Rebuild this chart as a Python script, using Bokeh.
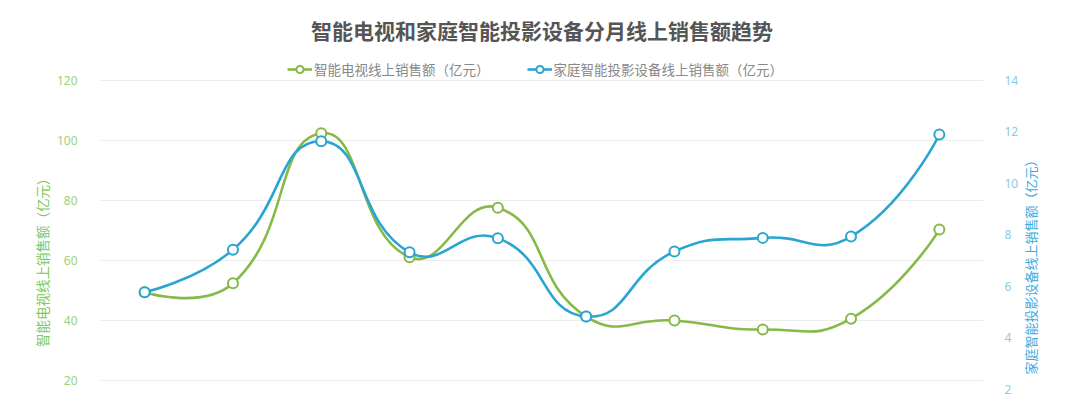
import math
from bokeh.plotting import figure
from bokeh.models import (Range1d, LinearAxis, FixedTicker, Legend, LegendItem,
                          FactorRange, ColumnDataSource)
from bokeh.embed import file_html
from bokeh.resources import INLINE

# ---------------- data ----------------
months = ["1月", "2月", "3月", "4月", "5月", "6月", "7月", "8月", "9月", "10月"]
tv_sales = [49.4, 52.4, 102.4, 61.1, 77.6, 41.3, 40.0, 37.0, 40.6, 70.3]      # 亿元, left axis
proj_sales = [5.77, 7.42, 11.64, 7.32, 7.87, 4.82, 7.35, 7.88, 7.93, 11.9]    # 亿元, right axis
left_ticks = [20, 40, 60, 80, 100, 120]
right_ticks = [2, 4, 6, 8, 10, 12, 14]

title_text = "智能电视和家庭智能投影设备分月线上销售额趋势"
tv_label = "智能电视线上销售额（亿元）"
proj_label = "家庭智能投影设备线上销售额（亿元）"

# ---------------- styling ----------------
CJK = "Noto Sans CJK SC"
GREEN = "#86b948"
BLUE = "#2aa5d2"
PAD_L = "\u3000" * 5 + "\u2002"   # trailing spaces: shift the centred left title down

W, H = 1090, 400
BL, BR, BT, BB = 100, 107, 50, 0
FW, FH = W - BL - BR, H - BT - BB
L_RANGE = (13.33, 130)
R_RANGE = (1.556, 15.1667)

p = figure(width=W, height=H, output_backend="svg", toolbar_location=None,
           x_range=FactorRange(*months), y_range=Range1d(*L_RANGE),
           x_axis_location=None, min_border_left=BL, min_border_right=BR,
           min_border_top=BT, min_border_bottom=BB)
p.outline_line_color = None
p.background_fill_color = "white"
p.border_fill_color = "white"
p.extra_y_ranges = {"right": Range1d(*R_RANGE)}

# title
p.title.text = title_text
p.title.text_font = CJK
p.title.text_font_size = "21px"
p.title.text_font_style = "bold"
p.title.text_color = "#555555"
p.title.align = "center"
p.title.standoff = 12

# left axis
la = p.yaxis[0]
la.ticker = FixedTicker(ticks=left_ticks)
la.axis_line_color = None
la.major_tick_line_color = None
la.minor_tick_line_color = None
la.major_label_standoff = 17
la.major_label_text_font = "Noto Sans"
la.major_label_text_font_size = "12px"
la.major_label_text_color = "#9ad17c"
la.axis_label = tv_label + PAD_L
la.axis_label_text_font = CJK
la.axis_label_text_font_size = "13.5px"
la.axis_label_text_font_style = "normal"
la.axis_label_text_color = "#7cc95a"
la.axis_label_standoff = 2

# right axis
ra = LinearAxis(y_range_name="right", ticker=FixedTicker(ticks=right_ticks))
ra.axis_line_color = None
ra.major_tick_line_color = None
ra.minor_tick_line_color = None
ra.major_label_standoff = 15
ra.major_label_text_font = "Noto Sans"
ra.major_label_text_font_size = "12px"
ra.major_label_text_color = "#8ccbe3"
ra.axis_label_text_font = CJK
ra.axis_label_text_font_size = "13px"
ra.axis_label_text_font_style = "normal"
ra.axis_label_text_color = "#36ace0"
ra.axis_label_standoff = 9
props = ra.properties()
aligned = False
if "axis_label_orientation" in props:
    ra.axis_label_orientation = math.pi / 2
if "axis_label_align" in props:
    for v in ("start", "left", "bottom"):
        try:
            ra.axis_label_align = v
            aligned = True
            break
        except Exception:
            pass
ra.axis_label = ("\u3000\u3000" + proj_label) if aligned else proj_label
p.add_layout(ra, "right")

p.ygrid.ticker = FixedTicker(ticks=left_ticks)
p.ygrid.grid_line_color = "#ececec"
p.ygrid.grid_line_width = 1
p.xgrid.visible = False


def smooth_beziers(xs, ys, sx, sy, smooth=0.5):
    """ECharts-style smooth line: cubic bezier control points computed in pixel space."""
    px = [x * sx for x in xs]
    py = [y * sy for y in ys]
    n = len(px)
    cin, cout = [], []
    for i in range(n):
        if i == 0 or i == n - 1:
            cin.append((px[i], py[i]))
            cout.append((px[i], py[i]))
            continue
        vx, vy = px[i + 1] - px[i - 1], py[i + 1] - py[i - 1]
        d0 = math.hypot(px[i] - px[i - 1], py[i] - py[i - 1])
        d1 = math.hypot(px[i + 1] - px[i], py[i + 1] - py[i])
        r = d1 / (d0 + d1) if d0 + d1 else 0.5
        cin.append((px[i] - vx * smooth * (1 - r), py[i] - vy * smooth * (1 - r)))
        cout.append((px[i] + vx * smooth * r, py[i] + vy * smooth * r))
    d = dict(x0=[], y0=[], x1=[], y1=[], cx0=[], cy0=[], cx1=[], cy1=[])
    for i in range(n - 1):
        d["x0"].append(xs[i]); d["y0"].append(ys[i])
        d["x1"].append(xs[i + 1]); d["y1"].append(ys[i + 1])
        d["cx0"].append(cout[i][0] / sx); d["cy0"].append(cout[i][1] / sy)
        d["cx1"].append(cin[i + 1][0] / sx); d["cy1"].append(cin[i + 1][1] / sy)
    return ColumnDataSource(d)


xpos = [i + 0.5 for i in range(len(months))]   # factor centres (synthetic coords)
sx = FW / len(months)
sy_l = FH / (L_RANGE[1] - L_RANGE[0])
sy_r = FH / (R_RANGE[1] - R_RANGE[0])

items = []
for vals, color, label, rng, sy in [(tv_sales, GREEN, tv_label, "default", sy_l),
                                    (proj_sales, BLUE, proj_label, "right", sy_r)]:
    src = smooth_beziers(xpos, vals, sx, sy)
    bz = p.bezier(x0="x0", y0="y0", x1="x1", y1="y1", cx0="cx0", cy0="cy0", cx1="cx1", cy1="cy1",
                  source=src, line_color=color, line_width=2.6, y_range_name=rng)
    sc = p.scatter(x=months, y=vals, size=10, marker="circle", fill_color="white",
                   line_color=color, line_width=2, y_range_name=rng)
    items.append(LegendItem(label=label, renderers=[bz, sc]))

legend = Legend(items=items, orientation="horizontal", location=(187, FH - 29),
                glyph_width=25, glyph_height=18, label_standoff=2, spacing=37,
                padding=0, margin=0, border_line_color=None, background_fill_alpha=0,
                label_text_font=CJK, label_text_font_size="13.5px",
                label_text_color="#888888")
p.add_layout(legend)

open("out.html", "w").write(file_html(p, INLINE))
